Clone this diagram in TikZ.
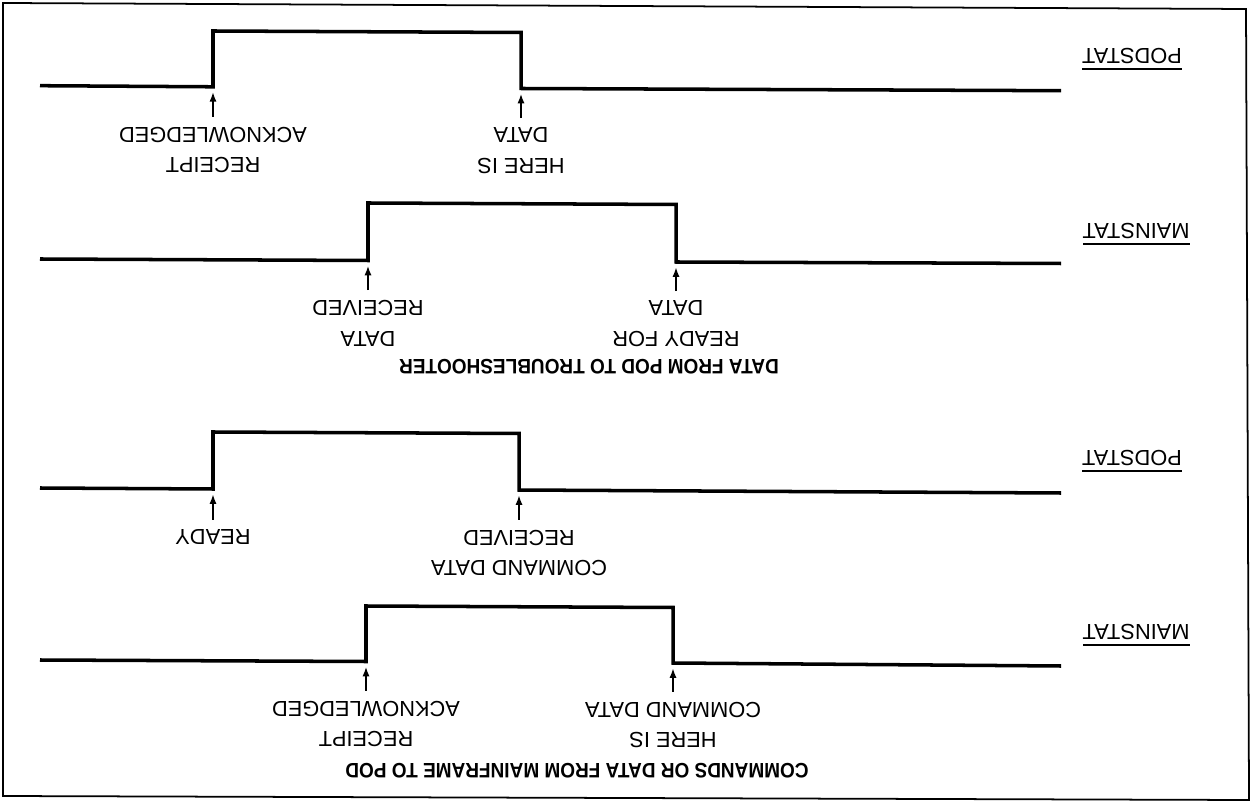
\documentclass[tikz,border=0pt]{standalone}
\usepackage{fontspec}
\setmainfont{Liberation Sans}
\usetikzlibrary{arrows.meta}
\tikzset{
  wave/.style={line width=1pt,line join=miter},
  arr/.style={-{Latex[length=2.8pt,width=2pt]},line width=0.75pt,shorten >=1.4pt},
  lbl/.style={font=\fontsize{6.2}{8.8}\selectfont,align=center,rotate=180,transform shape,inner xsep=0pt,inner ysep=2.6pt},
  sig/.style={font=\fontsize{6.2}{8.8}\selectfont,rotate=180,transform shape,inner sep=0pt},
  ttl/.style={font=\fontsize{5.4}{7}\selectfont\bfseries,yscale=1.1,rotate=180,transform shape,inner sep=0pt}
}
\begin{document}
\begin{tikzpicture}[x=0.01cm,y=-0.01cm]
  \useasboundingbox (0,0) rectangle (1252,807);
  \draw[line width=0.5pt] (3,3) -- (1246,9) -- (1249,800) -- (3,796) -- cycle;

  % data from pod: podstat
  \coordinate (pu1) at (213,86.8);
  \coordinate (pd1) at (521,88.5);
  \draw[wave] (40,85.7) -- (pu1) -- (213,31) -- (521,32.5) -- (pd1) -- (1061,90.7);
  \node[sig] (pod1) at (1132,60) {$\overline{\hbox{PODSTAT}}$};
  \node[lbl] (ack1) at (213,150) {RECEIPT\\ACKNOWLEDGED};
  \node[lbl] (here1) at (521,151) {HERE IS\\DATA};
  \draw[arr] (ack1.south) -- (pu1);
  \draw[arr] (here1.south) -- (pd1);

  % data from pod: mainstat
  \coordinate (mu1) at (368,260.5);
  \coordinate (md1) at (676,262);
  \draw[wave] (40,259) -- (mu1) -- (368,203) -- (676,204.5) -- (md1) -- (1061,263.5);
  \node[sig] (main1) at (1136,235) {$\overline{\hbox{MAINSTAT}}$};
  \node[lbl] (recv1) at (368,323) {DATA\\RECEIVED};
  \node[lbl] (rdy1) at (676,324) {READY FOR\\DATA};
  \draw[arr] (recv1.south) -- (mu1);
  \draw[arr] (rdy1.south) -- (md1);
  \node[ttl] (title1) at (589,366.5) {DATA FROM POD TO TROUBLESHOOTER};

  % commands to pod: podstat
  \coordinate (pu2) at (213,489);
  \coordinate (pd2) at (519,490);
  \draw[wave] (40,488) -- (pu2) -- (213,432) -- (519,433.5) -- (pd2) -- (1061,493);
  \node[sig] (pod2) at (1132,462) {$\overline{\hbox{PODSTAT}}$};
  \node[lbl] (rdy2) at (213,537) {READY};
  \node[lbl] (recv2) at (519,553) {COMMAND DATA\\RECEIVED};
  \draw[arr] (rdy2.south) -- (pu2);
  \draw[arr] (recv2.south) -- (pd2);

  % commands to pod: mainstat
  \coordinate (mu2) at (366,661.5);
  \coordinate (md2) at (673,663);
  \draw[wave] (40,660) -- (mu2) -- (366,606) -- (673,607.5) -- (md2) -- (1061,666);
  \node[sig] (main2) at (1136,636) {$\overline{\hbox{MAINSTAT}}$};
  \node[lbl] (ack2) at (366,724) {RECEIPT\\ACKNOWLEDGED};
  \node[lbl] (here2) at (673,725) {HERE IS\\COMMAND DATA};
  \draw[arr] (ack2.south) -- (mu2);
  \draw[arr] (here2.south) -- (md2);
  \node[ttl] (title2) at (577,771) {COMMANDS OR DATA FROM MAINFRAME TO POD};
\end{tikzpicture}
\end{document}
